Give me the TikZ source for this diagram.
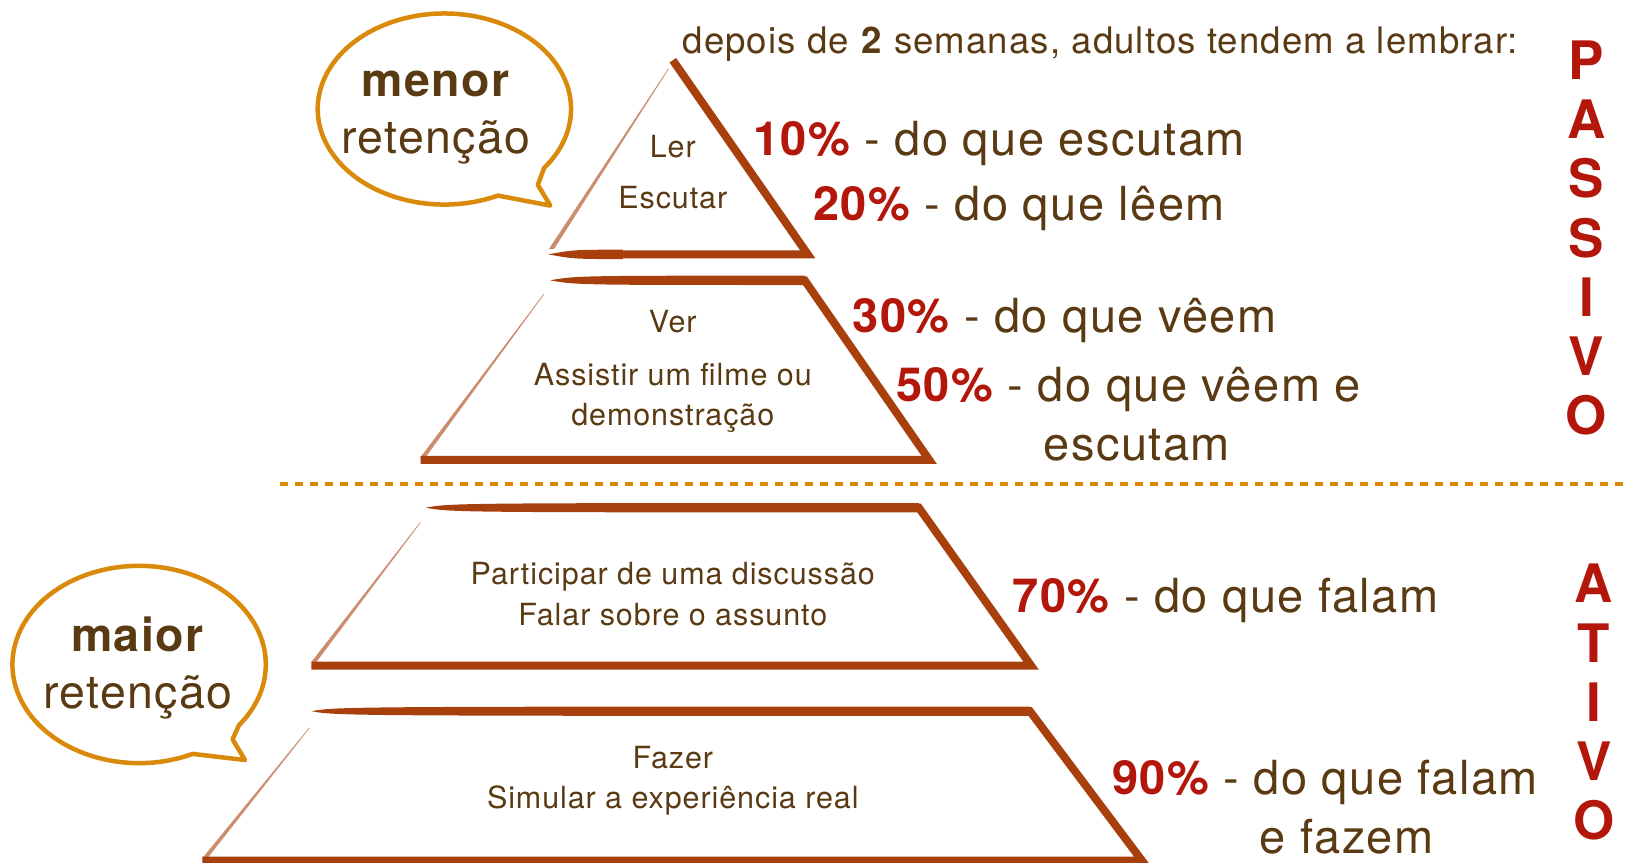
\documentclass[tikz,border=0pt]{standalone}
\usepackage{fontspec}
\setmainfont[LetterSpace=3]{TeX Gyre Heros}
\usetikzlibrary{calc}
\definecolor{txtbrown}{HTML}{5A3A12}
\definecolor{pctred}{HTML}{B3170C}
\definecolor{bubbleorange}{HTML}{D98A0B}
\definecolor{pyrbrown}{HTML}{A8400E}
% tapered brush stroke: pointed at x1, full width at x2, on height y
\def\brush(#1,#2,#3){\fill[pyrbrown] (#1,#3) .. controls (#1+25,#3-4.5) .. (#2,#3-4.5) -- (#2,#3+4.5) .. controls (#1+25,#3+4.5) .. (#1,#3) -- cycle;}
% faint left side: wide at the corner (x1,y1), thin at the top (x2,y2)
\def\fade(#1,#2)(#3,#4){\fill[pyrbrown!60] (#1-2.5,#2) -- (#1+2.5,#2) -- (#3+0.4,#4) -- (#3-0.4,#4) -- cycle;}
\tikzset{
  edge/.style={draw=pyrbrown, line width=8pt, line join=miter},
  bubble/.style={draw=bubbleorange, line width=4.5pt, line join=round},
  lbl/.style={text=txtbrown, font=\fontsize{30.5}{40.5}\selectfont, align=center},
  pct/.style={text=txtbrown, font=\fontsize{47}{60}\selectfont, anchor=base west},
  vert/.style={text=pctred, font=\fontsize{53}{60}\selectfont\bfseries},
  bubtxt/.style={text=txtbrown, font=\fontsize{46.5}{57}\selectfont, align=center}
}
\begin{document}
\begin{tikzpicture}[x=1.0383pt, y=-1.0383pt]
		%%%%% START %%%%%
		\useasboundingbox (0,0) rectangle (1568,831);
		
		% header
		\node[text=txtbrown, font=\fontsize{36.6}{40}\selectfont, anchor=base west] (head) at (654,52) {depois de \textbf{2} semanas, adultos tendem a lembrar:};
		
		% level 1 (triangle)
		\fade(531,240)(644,66)
		\draw[edge] (648,58) -- (778,245) -- (600,245);
		\brush(528,600,245)
		\node[lbl] (ler) at (648,141) {Ler};
		\node[lbl] (escutar) at (648,190) {Escutar};
		
		% level 2
		\brush(530,775,270)
		\fade(407,441)(524,283)
		\draw[edge] (770,270) -- (775,270) -- (895,443) -- (405,443);
		\node[lbl] (ver) at (648,310) {Ver};
		\node[lbl] (assistir) at (648,383) {Assistir um filme ou\\demonstração};
		
		% separator
		\draw[draw=bubbleorange, line width=4pt, dash pattern=on 8pt off 7pt] (270,466) -- (1568,466);
		
		% level 3
		\brush(410,885,489)
		\fade(302,638)(405,503)
		\draw[edge] (880,489) -- (885,489) -- (993,641) -- (300,641);
		\node[lbl] (participar) at (648,572) {Participar de uma discussão\\Falar sobre o assunto};
		
		% level 4
		\brush(300,992,685)
		\fade(197,827)(298,701)
		\draw[edge] (987,685) -- (992,685) -- (1100,829) -- (195,829);
		\node[lbl] (fazer) at (648,752) {Fazer\\Simular a experiência real};
		
		% speech bubbles
		\coordinate (menorC) at (428,105);
		\draw[bubble] (menorC) ++(65:122 and 92) arc[start angle=65, end angle=398, x radius=122, y radius=92] -- (518,178) -- (530,198) -- cycle;
		\node[bubtxt] (menor) at (420,113) {\textbf{menor}\\retenção};
		
		\coordinate (maiorC) at (134,640);
		\draw[bubble] (maiorC) ++(65:122 and 95) arc[start angle=65, end angle=398, x radius=122, y radius=95] -- (224,712) -- (236,732) -- cycle;
		\node[bubtxt] (maior) at (133,643) {\textbf{maior}\\retenção};
		
		% percentages
		\node[pct] (p10) at (722,150) {\textcolor{pctred}{\bfseries 10\%} - do que escutam};
		\node[pct] (p20) at (780,212) {\textcolor{pctred}{\bfseries 20\%} - do que lêem};
		\node[pct] (p30) at (818,320) {\textcolor{pctred}{\bfseries 30\%} - do que vêem};
		\node[pct] (p50) at (860,387) {\textcolor{pctred}{\bfseries 50\%} - do que vêem e};
		\node[pct] (p50b) at (1002,444) {escutam};
		\node[pct] (p70) at (972,590) {\textcolor{pctred}{\bfseries 70\%} - do que falam};
		\node[pct] (p90) at (1068,765) {\textcolor{pctred}{\bfseries 90\%} - do que falam};
		\node[pct] (p90b) at (1210,822) {e fazem};
		
		% vertical words
		\foreach \l [count=\i] in {P,A,S,S,I,V,O}
			\node[vert] (pas\i) at (1528,{58+57*(\i-1)}) {\l};
		\foreach \l [count=\i] in {A,T,I,V,O}
			\node[vert] (ati\i) at (1535,{562+57*(\i-1)}) {\l};
		
		%%%%% END %%%%%
	\end{tikzpicture}
\end{document}
